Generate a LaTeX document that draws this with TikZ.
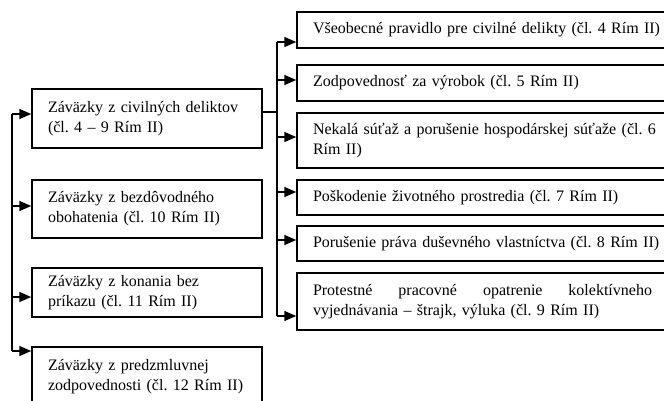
\documentclass[tikz,border=0pt]{standalone}
\usepackage{fontspec}
\setmainfont{Liberation Serif}
\usepackage{tikz}
\usetikzlibrary{arrows.meta}

\begin{document}
\begin{tikzpicture}[x=1pt,y=-1pt,
        box/.style={draw, line width=1.5pt, inner xsep=16pt, inner ysep=0pt, align=left,
            font=\fontsize{16}{20}\selectfont\frenchspacing},
        lbox/.style={box, text width=198pt},
        rbox/.style={box, text width=360pt},
        link/.style={line width=1.5pt},
        arr/.style={link, -{Triangle[length=12pt,width=10pt]}}]
                % Page frame
                \clip (0,0) rectangle (664,401);
                % Left column
                \node[lbox, minimum height=59pt] (civil) at (147,118.5) {Záväzky z civilných deliktov\\(čl. 4 – 9 Rím II)};
                \node[lbox, minimum height=58pt] (bezd) at (147,209) {Záväzky z bezdôvodného\\obohatenia (čl. 10 Rím II)};
                \node[lbox, minimum height=49pt] (konan) at (147,292.5) {Záväzky z konania bez\\príkazu (čl. 11 Rím II)};
                \node[lbox, minimum height=59pt] (predz) at (147,376.5) {Záväzky z predzmluvnej\\zodpovednosti (čl. 12 Rím II)};
                % Right column (runs past the page edge)
                \node[rbox, minimum height=36pt] (vseob) at (493,30) {Všeobecné pravidlo pre civilné delikty (čl. 4 Rím II)};
                \node[rbox, minimum height=36pt] (vyrob) at (493,83) {Zodpovednosť za výrobok (čl. 5 Rím II)};
                \node[rbox, minimum height=55pt] (sutaz) at (493,140.5) {Nekalá súťaž a porušenie hospodárskej súťaže (čl. 6\\Rím II)};
                \node[rbox, minimum height=35pt] (prostr) at (493,197.5) {Poškodenie životného prostredia (čl. 7 Rím II)};
                \node[rbox, minimum height=35pt] (dusev) at (493,243.5) {Porušenie práva duševného vlastníctva (čl. 8 Rím II)};
                \node[rbox, minimum height=57pt] (strajk) at (493,301.5) {\hbox to 339pt{Protestné\hfill pracovné\hfill opatrenie\hfill kolektívneho}\\vyjednávania – štrajk, výluka (čl. 9 Rím II)};
                % Left spine
                \coordinate (l1) at (12,114);
                \coordinate (l2) at (12,206);
                \coordinate (l3) at (12,297);
                \coordinate (l4) at (12,351);
                \draw[link] (l1) -- (l4);
                \foreach \c/\b in {l1/civil, l2/bezd, l3/konan, l4/predz}
                    \draw[arr] (\c) -- (\c -| \b.west);
                % Right spine
                \coordinate (rjoin) at (277,112);
                \coordinate (r1) at (277,42);
                \coordinate (r2) at (277,80);
                \coordinate (r3) at (277,137);
                \coordinate (r4) at (277,192);
                \coordinate (r5) at (277,240);
                \coordinate (r6) at (277,316);
                \draw[link] (rjoin -| civil.east) -- (rjoin);
                \draw[link] (r1) -- (r6);
                \foreach \c/\b in {r1/vseob, r2/vyrob, r3/sutaz, r4/prostr, r5/dusev, r6/strajk}
                    \draw[arr] (\c) -- (\c -| \b.west);
            \end{tikzpicture}
\end{document}
